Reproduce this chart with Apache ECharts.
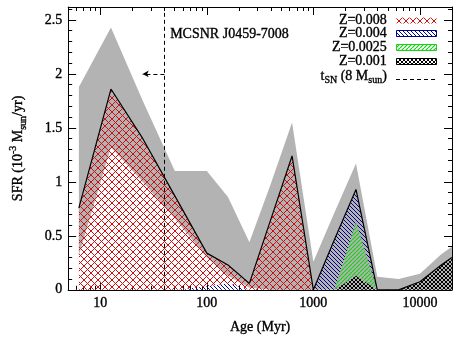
<!DOCTYPE html>
<html>
<head>
<meta charset="utf-8">
<script src="https://cdn.jsdelivr.net/npm/echarts@6/dist/echarts.min.js"></script>
<style>
  html, body { margin: 0; padding: 0; background: #fff; }
  #chart { width: 453px; height: 340px; }
</style>
</head>
<body>
<div id="chart"></div>
<script>
// age bins (Myr)
const ages = [6.3, 12.6, 25.1, 50.1, 100, 158, 251, 398, 631, 1000, 1585, 2512, 3981, 6310, 10000, 15849, 19953];
// SFR per metallicity, 10^-3 Msun/yr
const sfrZ008  = [0.76, 1.86, 1.40, 0.87, 0.31, 0.17, 0.06, 0.65, 1.24, 0, 0, 0, 0, 0, 0, 0, 0];
const sfrZ004  = [0, 0, 0, 0, 0.03, 0.06, 0, 0, 0, 0, 0.47, 0.30, 0, 0, 0, 0, 0];
const sfrZ0025 = [0, 0, 0, 0, 0, 0, 0, 0, 0, 0, 0, 0.50, 0, 0, 0, 0, 0];
const sfrZ001  = [0, 0, 0, 0, 0, 0, 0, 0, 0, 0, 0, 0.13, 0, 0, 0.075, 0.23, 0.30];
// uncertainty band on the total
const errLow  = [0.32, 1.32, 1.00, 0.66, 0.30, 0.13, 0.02, 0, 0, 0, 0, 0, 0, 0, 0, 0, 0];
const errHigh = [1.88, 2.43, 1.75, 1.10, 1.10, 0.86, 0.44, 0.98, 1.55, 0.26, 0.72, 1.17, 0.12, 0.10, 0.15, 0.33, 0.40];
// axes
const xTicks = [10, 100, 1000, 10000];
const yTicks = [0, 0.5, 1, 1.5, 2, 2.5];
const xRange = [5, 20000];
const yMax = 2.62;
// SN progenitor lifetime marker
const snAge = 40;
const snArrowTo = 25;
const snArrowY = 2.0;

const FONT = '"Liberation Serif", "Times New Roman", serif';
const INK = { textBorderColor: '#000', textBorderWidth: 0.35 };
const lg = v => Math.log10(v);

// hatch patterns
function hatch(color, size, dirs, lw) {
  const c = document.createElement('canvas');
  c.width = size; c.height = size;
  const g = c.getContext('2d');
  g.strokeStyle = color; g.lineWidth = lw;
  dirs.forEach(d => {
    for (let k = -1; k <= 1; k++) {
      g.beginPath();
      if (d > 0) { g.moveTo(k * size, size); g.lineTo(k * size + size, 0); }
      else { g.moveTo(k * size, 0); g.lineTo(k * size + size, size); }
      g.stroke();
    }
  });
  return { image: c, repeat: 'repeat' };
}
const patRed = hatch('#d01010', 7, [1, -1], 1);
const patBlue = hatch('#00008c', 4, [-1], 1);
const patGreen = hatch('#18d018', 4, [1], 1.2);
const patBlack = hatch('#000000', 4, [1, -1], 1);

// cumulative tops (metallicities stacked)
const zero = ages.map(() => 0);
const cum1 = sfrZ001.slice();
const cum2 = cum1.map((v, i) => v + sfrZ0025[i]);
const cum3 = cum2.map((v, i) => v + sfrZ004[i]);
const total = cum3.map((v, i) => v + sfrZ008[i]);

// band between two curves, drawn as one polygon through the axes
function band(lower, upper, fill, z) {
  return {
    type: 'custom', silent: true, z,
    data: ages.map((a, i) => [lg(a), upper[i]]),
    encode: { x: 0, y: 1 },
    renderItem(params, api) {
      if (params.dataIndex !== 0) return null;
      const p = [];
      ages.forEach((a, i) => p.push(api.coord([lg(a), upper[i]])));
      for (let i = ages.length - 1; i >= 0; i--) p.push(api.coord([lg(ages[i]), lower[i]]));
      return { type: 'polygon', shape: { points: p }, style: { fill, stroke: null } };
    }
  };
}

const majorX = xTicks.map(lg);
const minorX = [];
for (let d = 1; d <= 10000; d *= 10) {
  for (let m = 2; m <= 9; m++) {
    const v = lg(m * d);
    if (v > lg(xRange[0]) && v < lg(xRange[1])) minorX.push(v);
  }
}
const minorY = [];
for (let k = 1; k * 0.1 < yMax; k++) if (k % 5) minorY.push(+(k * 0.1).toFixed(1));

function xAx(pos, ticks, len, main) {
  return {
    type: 'value', position: pos, min: lg(xRange[0]), max: lg(xRange[1]),
    axisLine: { show: main, onZero: false, lineStyle: { color: '#000', width: 1 } },
    axisTick: { show: true, inside: true, length: len, customValues: ticks, lineStyle: { color: '#000' } },
    axisLabel: { show: false },
    splitLine: { show: false }
  };
}
function yAx(pos, ticks, len, main) {
  return {
    type: 'value', position: pos, min: 0, max: yMax,
    axisLine: { show: main, onZero: false, lineStyle: { color: '#000', width: 1 } },
    axisTick: { show: true, inside: true, length: len, customValues: ticks, lineStyle: { color: '#000' } },
    axisLabel: { show: false },
    splitLine: { show: false }
  };
}

const xAxes = [xAx('bottom', majorX, 8, true), xAx('bottom', minorX, 4, false), xAx('top', majorX, 8, true), xAx('top', minorX, 4, false)];
xAxes[0].axisLabel = Object.assign({
  show: true, customValues: majorX, margin: 7, color: '#000', fontFamily: FONT, fontSize: 14,
  formatter: v => String(Math.round(Math.pow(10, v)))
}, INK);
xAxes[0].name = 'Age (Myr)';
xAxes[0].nameLocation = 'middle';
xAxes[0].nameGap = 31;
xAxes[0].nameTextStyle = Object.assign({ color: '#000', fontFamily: FONT, fontSize: 14 }, INK);

const yAxes = [yAx('left', yTicks, 8, true), yAx('left', minorY, 4, false), yAx('right', yTicks, 8, true), yAx('right', minorY, 4, false)];
yAxes[0].axisLabel = Object.assign({ show: true, customValues: yTicks, margin: 6, color: '#000', fontFamily: FONT, fontSize: 14 }, INK);
yAxes[0].name = '{a|SFR (10}{sup|-3}{a| M}{sub|sun}{a|/yr)}';
yAxes[0].nameLocation = 'middle';
yAxes[0].nameRotate = 90;
yAxes[0].nameGap = 40;
yAxes[0].nameTextStyle = {
  color: '#000', fontFamily: FONT, fontSize: 14,
  rich: {
    a: Object.assign({ fontFamily: FONT, fontSize: 14, lineHeight: 20, color: '#000' }, INK),
    sup: Object.assign({ fontFamily: FONT, fontSize: 10, lineHeight: 10, verticalAlign: 'top', color: '#000' }, INK),
    sub: Object.assign({ fontFamily: FONT, fontSize: 10, lineHeight: 10, verticalAlign: 'bottom', color: '#000' }, INK)
  }
};

const series = [
  band(errLow, errHigh, '#b3b3b3', 1),
  band(zero, cum1, patBlack, 2),
  band(cum1, cum2, patGreen, 2),
  band(cum2, cum3, patBlue, 2),
  band(cum3, total, patRed, 2),
  { type: 'line', z: 3, data: ages.map((a, i) => [lg(a), total[i]]), symbol: 'none',
    lineStyle: { color: '#000', width: 1.2 }, silent: true,
    markLine: {
      silent: true, symbol: ['none', 'none'], label: { show: false },
      lineStyle: { color: '#000', width: 1, type: [4, 3] },
      data: [
        [{ coord: [lg(snAge), 0] }, { coord: [lg(snAge), yMax] }],
        [{ coord: [lg(snAge), snArrowY] }, { coord: [lg(snArrowTo), snArrowY], symbol: 'arrow', symbolSize: [5, 6] }]
      ]
    }
  }
];

// legend (top right)
const legendRows = [
  { label: 'Z=0.008', fill: patRed, stroke: null, y: 21 },
  { label: 'Z=0.004', fill: patBlue, stroke: '#00008c', y: 34 },
  { label: 'Z=0.0025', fill: patGreen, stroke: '#18d018', y: 48 },
  { label: 'Z=0.001', fill: patBlack, stroke: '#000', y: 62 }
];
const txtInk = { stroke: '#000', lineWidth: 0.35 };
const graphic = [];
legendRows.forEach(r => {
  graphic.push({ type: 'text', right: 453 - 387, top: r.y - 8,
    style: Object.assign({ text: r.label, font: '14px ' + FONT, fill: '#000' }, txtInk) });
  graphic.push({ type: 'rect', shape: { x: 396.5, y: r.y - 3.5, width: 40, height: 6 },
    style: { fill: r.fill, stroke: r.stroke, lineWidth: r.stroke ? 1 : 0 } });
});
graphic.push({ type: 'text', right: 453 - 387, top: 69,
  style: {
    text: '{a|t}{s|SN}{a| (8 M}{s|sun}{a|)}', fill: '#000',
    rich: {
      a: Object.assign({ fontFamily: FONT, fontSize: 14, lineHeight: 18, fill: '#000' }, txtInk),
      s: Object.assign({ fontFamily: FONT, fontSize: 10, lineHeight: 10, verticalAlign: 'bottom', fill: '#000' }, txtInk)
    }
  } });
graphic.push({ type: 'line', shape: { x1: 396, y1: 79.5, x2: 436, y2: 79.5 },
  style: { stroke: '#000', lineWidth: 1, lineDash: [4, 3] } });
graphic.push({ type: 'text', left: 170, top: 27,
  style: Object.assign({ text: 'MCSNR J0459-7008', font: '14px ' + FONT, fill: '#000' }, txtInk) });

const chart = echarts.init(document.getElementById('chart'), null, { renderer: 'canvas' });
chart.setOption({
  animation: false,
  backgroundColor: '#fff',
  grid: { left: 68, right: 1, top: 7, bottom: 45, containLabel: false },
  xAxis: xAxes,
  yAxis: yAxes,
  series,
  graphic
});
</script>
</body>
</html>
